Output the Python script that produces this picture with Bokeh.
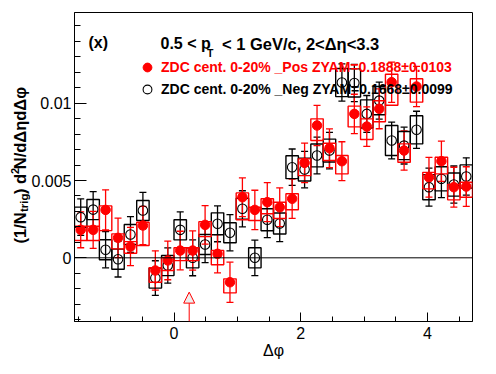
import numpy as np
from bokeh.plotting import figure
from bokeh.models import (Range1d, FixedTicker, Label, Legend, LegendItem, Span,
                          Whisker, TeeHead, ColumnDataSource, Arrow, NormalHead,
                          CustomJSTickFormatter)
from bokeh.core.properties import value
from bokeh.embed import file_html
from bokeh.resources import INLINE

# ---------------- data ----------------
dphi = [-1.4726, -1.2763, -1.0799, -0.8836, -0.6872, -0.4909, -0.2945, -0.0982,
        0.0982, 0.2945, 0.4909, 0.6872, 0.8836, 1.0799, 1.2763, 1.4726,
        1.6690, 1.8653, 2.0617, 2.2580, 2.4544, 2.6507, 2.8471, 3.0434,
        3.2398, 3.4361, 3.6325, 3.8288, 4.0252, 4.2215, 4.4179, 4.6142]
bin_width = 0.19635

pos_y = [0.00181, 0.00181, 0.00310, 0.00129, 0.00073, 0.00209, -0.00082, -0.00017,
         0.00047, 0.00047, 0.00213, 0.00026, -0.00158, 0.00392, 0.00310, 0.00360,
         0.00327, 0.00382, 0.00614, 0.00856, 0.00709, 0.00625, 0.00931, 0.00849,
         0.00964, 0.01136, 0.00694, 0.01108, 0.00521, 0.00625, 0.00457, 0.00461]
pos_stat = [0.00116, 0.00120, 0.00130, 0.00128, 0.00124, 0.00124, 0.00127, 0.00125,
            0.00125, 0.00127, 0.00125, 0.00124, 0.00130, 0.00125, 0.00127, 0.00126,
            0.00125, 0.00127, 0.00128, 0.00130, 0.00125, 0.00126, 0.00127, 0.00128,
            0.00129, 0.00130, 0.00127, 0.00130, 0.00129, 0.00130, 0.00129, 0.00128]
pos_sys_up = [0.00023, 0.00023, 0.00026, 0.00026, 0.00032, 0.00021, 0.00018, 0.00018,
              0.00018, 0.00018, 0.00021, 0.00021, 0.00022, 0.00028, 0.00017, 0.00022,
              0.00032, 0.00032, 0.00026, 0.00043, 0.00032, 0.00037, 0.00050, 0.00050,
              0.00052, 0.00052, 0.00043, 0.00050, 0.00032, 0.00026, 0.00018, 0.00028]
pos_sys_dn = [0.00069, 0.00069, 0.00134, 0.00071, 0.00043, 0.00129, 0.00076, 0.00065,
              0.00065, 0.00065, 0.00076, 0.00071, 0.00069, 0.00146, 0.00069, 0.00075,
              0.00073, 0.00071, 0.00082, 0.00097, 0.00079, 0.00082, 0.00084, 0.00084,
              0.00084, 0.00149, 0.00076, 0.00101, 0.00075, 0.00082, 0.00082, 0.00069]

neg_y = [0.00263, 0.00312, 0.00052, -0.00009, 0.00151, 0.00306, -0.00131, -0.00050,
         0.00181, 0.00000, 0.00086, 0.00220, 0.00162, 0.00317, 0.00000, 0.00246,
         0.00222, 0.00586, 0.00571, 0.00662, 0.00694, 0.01134, 0.01131, 0.00931,
         0.01017, 0.00759, 0.00726, 0.00828, 0.00457, 0.00511, 0.00474, 0.00526]
neg_stat = [0.00118, 0.00116, 0.00117, 0.00115, 0.00116, 0.00117, 0.00112, 0.00114,
            0.00116, 0.00116, 0.00117, 0.00116, 0.00117, 0.00117, 0.00115, 0.00116,
            0.00117, 0.00118, 0.00118, 0.00119, 0.00118, 0.00120, 0.00120, 0.00119,
            0.00120, 0.00119, 0.00119, 0.00120, 0.00123, 0.00121, 0.00120, 0.00121]
neg_sys = [0.00065, 0.00065, 0.00065, 0.00065, 0.00065, 0.00065, 0.00065, 0.00065,
           0.00065, 0.00065, 0.00065, 0.00071, 0.00065, 0.00068, 0.00065, 0.00071,
           0.00068, 0.00074, 0.00074, 0.00074, 0.00074, 0.00091, 0.00091, 0.00091,
           0.00091, 0.00097, 0.00091, 0.00091, 0.00081, 0.00078, 0.00075, 0.00075]

zyam_x = 0.24          # ZYAM arrow position
zyam_tip = -0.00222    # arrow tip

label_pos = "ZDC cent. 0-20% _Pos ZYAM=0.1888\u00b10.0103"
label_neg = "ZDC cent. 0-20% _Neg ZYAM=0.1668\u00b10.0099"

y_lo, y_hi = -0.00412, 0.01587
x_lo, x_hi = -np.pi / 2, 3 * np.pi / 2

FONT = "Liberation Sans"

# ---------------- figure ----------------
p = figure(width=490, height=370, output_backend="svg", toolbar_location=None,
           x_range=Range1d(x_lo, x_hi), y_range=Range1d(y_lo, y_hi),
           min_border_left=74, min_border_right=18, min_border_top=12,
           min_border_bottom=49)
p.grid.visible = False
p.outline_line_color = "black"
p.outline_line_width = 1
p.background_fill_color = "white"
p.border_fill_color = "white"

# axes
p.xaxis.ticker = FixedTicker(ticks=[0, 2, 4],
                             minor_ticks=[-1.5, -1, -0.5, 0.5, 1, 1.5, 2.5, 3, 3.5, 4.5])
p.yaxis.ticker = FixedTicker(ticks=[0, 0.005, 0.01],
                             minor_ticks=[-0.004, -0.003, -0.002, -0.001, 0.001, 0.002, 0.003,
                                          0.004, 0.006, 0.007, 0.008, 0.009, 0.011, 0.012,
                                          0.013, 0.014, 0.015])
p.yaxis.formatter = CustomJSTickFormatter(code="return tick == 0 ? '0' : tick.toString();")
for ax in (p.xaxis[0], p.yaxis[0]):
    ax.axis_line_color = "black"
    ax.major_tick_out = 0
    ax.minor_tick_out = 0
    ax.major_tick_line_color = "black"
    ax.minor_tick_line_color = "black"
    ax.major_label_text_font = FONT
    ax.major_label_text_font_size = "16px"
    ax.major_label_text_color = "black"
p.xaxis.major_tick_in = 9
p.xaxis.minor_tick_in = 5
p.yaxis.major_tick_in = 12
p.yaxis.minor_tick_in = 6
p.xaxis.major_label_standoff = 5
p.yaxis.major_label_standoff = 3
p.xaxis.axis_label = "\u0394\u03c6"
p.xaxis.axis_label_text_font = FONT
p.xaxis.axis_label_text_font_size = "16px"
p.xaxis.axis_label_text_font_style = "normal"
p.xaxis.axis_label_text_color = "black"
p.xaxis.axis_label_standoff = 0

# zero line
p.add_layout(Span(location=0, dimension="width", line_color="black", line_width=1))

dphi_a = np.array(dphi)
half = bin_width / 2


def series(yv, st, up, dn, color, filled):
    yv = np.array(yv)
    src = ColumnDataSource(dict(x=dphi_a, y=yv,
                                lo=yv - np.array(st), hi=yv + np.array(st),
                                blo=yv - np.array(dn), bhi=yv + np.array(up),
                                l=dphi_a - half, r=dphi_a + half))
    p.quad(left="l", right="r", bottom="blo", top="bhi", source=src,
           fill_alpha=0, line_color=color, line_width=1.4)
    w = Whisker(base="x", lower="lo", upper="hi", source=src, dimension="height",
                line_color=color, line_width=1.3,
                upper_head=TeeHead(size=7, line_color=color, line_width=1.3),
                lower_head=TeeHead(size=7, line_color=color, line_width=1.3))
    p.add_layout(w)
    if filled:
        r = p.scatter("x", "y", source=src, marker="circle", size=9.5,
                      fill_color=color, line_color=color)
    else:
        r = p.scatter("x", "y", source=src, marker="circle", size=9.5,
                      fill_alpha=0, line_color=color, line_width=1.1)
    return r


r_neg = series(neg_y, neg_stat, neg_sys, neg_sys, "black", False)
r_pos = series(pos_y, pos_stat, pos_sys_up, pos_sys_dn, "red", True)

# ZYAM arrow
p.add_layout(Arrow(end=NormalHead(size=11, fill_color="#eeeeee", line_color="red", line_width=1),
                   x_start=zyam_x, y_start=y_lo, x_end=zyam_x, y_end=zyam_tip,
                   line_color="red", line_width=1))

# legends
for lab, rend, col, vy in ((label_pos, r_pos, "red", 243), (label_neg, r_neg, "black", 221)):
    leg = Legend(items=[LegendItem(label=value(lab), renderers=[rend])],
                 location=(62, vy), orientation="vertical",
                 label_text_font=FONT, label_text_font_style="bold",
                 label_text_font_size="14px", label_text_color=col,
                 glyph_width=22, glyph_height=22, label_height=22, label_width=10,
                 label_standoff=3, padding=0, margin=0, spacing=0,
                 border_line_color=None, background_fill_alpha=0)
    p.add_layout(leg)


# texts positioned in canvas pixels
def put(txt, px, py, size, bold=True, angle=0.0, color="black", place="center"):
    lab = Label(x=px, y=py, x_units="canvas", y_units="canvas",
                text=txt, text_font=FONT, text_font_size=f"{size}px",
                text_font_style="bold" if bold else "normal",
                text_color=color, text_baseline="alphabetic",
                text_align="left", angle=angle)
    p.add_layout(lab, place)


put("(x)", 88, 42, 16)
put("0.5 < p", 160, 43, 16)
put("T", 206.5, 52, 10.5)
put("< 1 GeV/c, 2<\u0394\u03b7<3.3", 221.5, 43, 16.5)

# y axis title (rotated); placed in side panels so it is not clipped to the frame
A = np.pi / 2
NB = "\u00a0"
put("(1/N" + NB * 4 + ")" + NB + "d" + NB + "N/d\u0394\u03b7d\u0394\u03c6",
    19.5, 243, 16.5, angle=A, place="left")
put("trig", 23, 211.5, 11.5, angle=A, place="right")
put("2", 14.5, 173.5, 11, angle=A, place="above")

open("out.html", "w").write(file_html(p, INLINE))
